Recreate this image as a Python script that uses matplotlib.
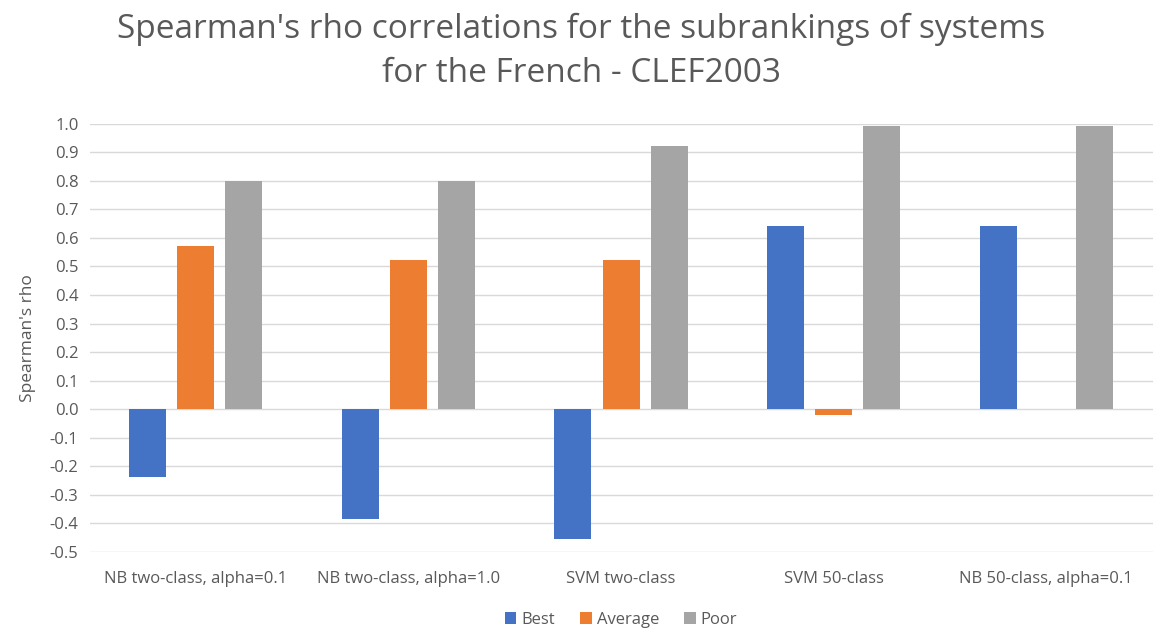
import numpy as np
import matplotlib
matplotlib.use("Agg")
import matplotlib.pyplot as plt

plt.rcParams['font.family'] = ['Open Sans', 'DejaVu Sans']

categories = ["NB two-class, alpha=0.1", "NB two-class, alpha=1.0", "SVM two-class",
              "SVM 50-class", "NB 50-class, alpha=0.1"]
best = [-0.236, -0.383, -0.453, 0.643, 0.643]
average = [0.572, 0.524, 0.524, -0.021, 0.0]
poor = [0.80, 0.80, 0.921, 0.993, 0.993]

series = [("Best", best, "#4472C4"), ("Average", average, "#ED7D31"), ("Poor", poor, "#A5A5A5")]

fig = plt.figure(figsize=(11.63, 6.28), dpi=100)
ax = fig.add_axes([0.077, 0.121, 0.914, 0.682])

x = np.arange(len(categories))
width = 0.174
step = 0.226
for i, (name, vals, col) in enumerate(series):
    ax.bar(x + (i - 1) * step, vals, width, color=col, label=name, zorder=3)

yt = np.round(np.arange(-0.5, 1.01, 0.1), 1)
ax.set_xlim(-0.5, len(categories) - 0.5)
ax.set_ylim(-0.5, 1.0)
ax.set_yticks(yt)
ax.set_yticklabels([f"{v:.1f}" if v != 0 else "0.0" for v in yt])
ax.set_xticks(x)
ax.set_xticklabels(categories)
ax.grid(axis='y', color='#D9D9D9', linewidth=1, zorder=0)
for s in ax.spines.values():
    s.set_visible(False)
ax.tick_params(axis='both', length=0, colors='#595959')
ax.tick_params(axis='y', pad=8, labelsize=12)
ax.tick_params(axis='x', pad=14, labelsize=12)
ax.set_ylabel("Spearman's rho", color='#595959', fontsize=12.5, labelpad=10)

fig.suptitle("Spearman's rho correlations for the subrankings of systems\nfor the French - CLEF2003",
             color='#595959', fontsize=24, y=0.98, linespacing=1.45)

ax.legend(loc='upper center', bbox_to_anchor=(0.5, -0.105), ncol=3, frameon=False,
          handlelength=0.7, handleheight=0.7, handletextpad=0.3, columnspacing=1.5,
          fontsize=12, labelcolor='#595959')

fig.savefig("out.png", dpi=100)
